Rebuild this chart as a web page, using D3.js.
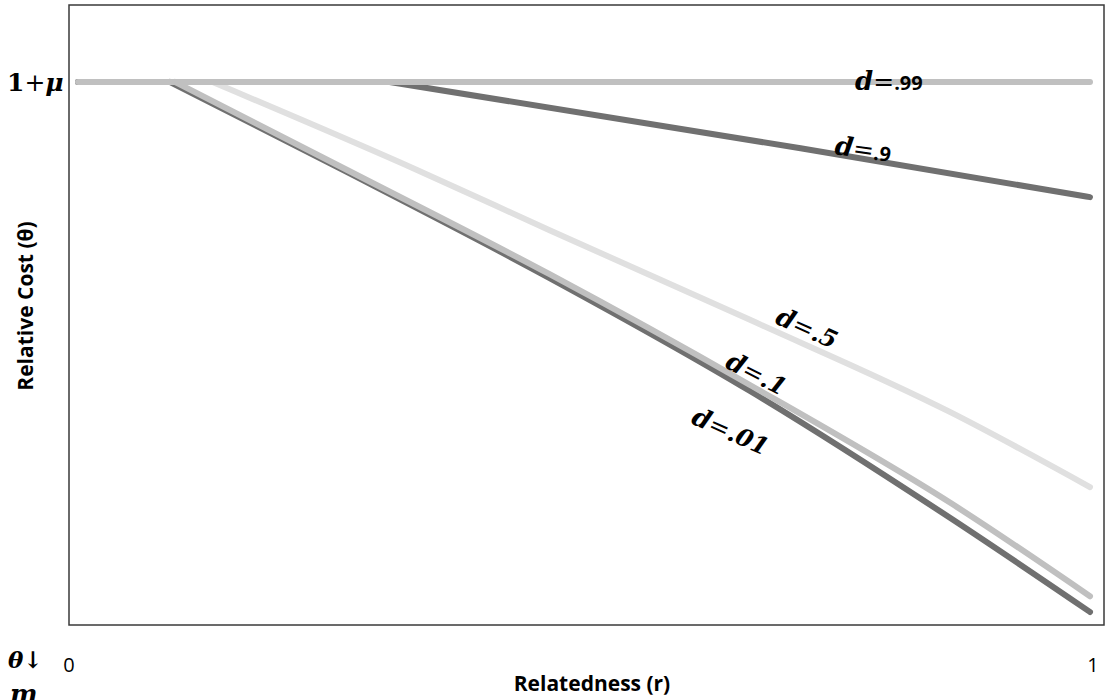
<!DOCTYPE html>
<html>
<head>
<meta charset="utf-8">
<script src="https://cdn.jsdelivr.net/npm/d3@7"></script>
<style>
  body { margin: 0; background: #fff; }
  svg { display: block; }
</style>
</head>
<body>
<script>
// relatedness r on x, relative cost on y (1 = the 1+mu level)
const rD99 = [0, 1];
const vD99 = [1, 1];
const rD9 = [0, 0.308, 0.714, 1];
const vD9 = [1, 1, 0.878, 0.788];
const rD5 = [0, 0.133, 0.335, 0.466, 0.664, 0.862, 1];
const vD5 = [1, 1, 0.838, 0.727, 0.562, 0.392, 0.254];
const rD1 = [0, 0.096, 0.266, 0.466, 0.664, 0.862, 1];
const vD1 = [1, 1, 0.838, 0.646, 0.442, 0.225, 0.053];
const rD01 = [0, 0.091, 0.266, 0.466, 0.664, 0.862, 1];
const vD01 = [1, 1, 0.834, 0.639, 0.431, 0.197, 0.024];
const xTicks = ['0', '1'];

const width = 1110, height = 700;
const box = { left: 69, right: 1104, top: 5, bottom: 625 };

let svg = d3.select('body').append('svg')
  .attr('width', width)
  .attr('height', height);

let x = d3.scaleLinear().domain([0, 1]).range([78, 1090]);
let y = d3.scaleLinear().domain([0, 1]).range([625, 82]);

// plot frame
svg.append('rect')
  .attr('x', box.left).attr('y', box.top)
  .attr('width', box.right - box.left)
  .attr('height', box.bottom - box.top)
  .attr('fill', 'none')
  .attr('stroke', '#3a3a3a')
  .attr('stroke-width', 1.5);

let series = [
  { r: rD01, v: vD01, color: '#707070' },
  { r: rD1, v: vD1, color: '#c0c0c0' },
  { r: rD5, v: vD5, color: '#e0e0e0' },
  { r: rD9, v: vD9, color: '#707070' },
  { r: rD99, v: vD99, color: '#c0c0c0' }
];

// flat stretch is straight, the falling part is smoothed
let flat = d3.line().x(d => x(d[0])).y(d => y(d[1]));
let smooth = d3.line().x(d => x(d[0])).y(d => y(d[1])).curve(d3.curveMonotoneX);

let pathFor = s => {
  let pts = s.r.map((r, i) => [r, s.v[i]]);
  if (pts.length <= 2) return flat(pts);
  return flat(pts.slice(0, 2)) + smooth(pts.slice(1));
};

svg.selectAll('path.curve')
  .data(series)
  .enter()
  .append('path')
  .attr('class', 'curve')
  .attr('d', pathFor)
  .attr('fill', 'none')
  .attr('stroke', s => s.color)
  .attr('stroke-width', 6)
  .attr('stroke-linecap', 'round')
  .attr('stroke-linejoin', 'round');

// curve labels: italic serif "d=" then the value
const serif = '"DejaVu Serif", "Liberation Serif", serif';
const sans = '"Open Sans", "Noto Sans", sans-serif';
let labels = [
  { text: '.99', px: 855, py: 90, rot: 0, sansVal: true },
  { text: '.9', px: 834, py: 154, rot: 8, sansVal: true },
  { text: '.5', px: 774, py: 323, rot: 24, sansVal: false },
  { text: '.1', px: 724, py: 367, rot: 27, sansVal: false },
  { text: '.01', px: 690, py: 423, rot: 24, sansVal: false }
];

let lab = svg.selectAll('text.dlab')
  .data(labels)
  .enter()
  .append('text')
  .attr('class', 'dlab')
  .attr('transform', d => `translate(${d.px},${d.py}) rotate(${d.rot})`)
  .attr('fill', '#000');
lab.append('tspan')
  .attr('font-family', serif)
  .attr('font-style', 'italic')
  .attr('font-weight', 'bold')
  .attr('font-size', 26)
  .text('d');
lab.append('tspan')
  .attr('font-family', serif)
  .attr('font-size', 25)
  .text('=');
lab.append('tspan')
  .attr('font-family', d => d.sansVal ? sans : serif)
  .attr('font-style', d => d.sansVal ? 'normal' : 'italic')
  .attr('font-weight', 'bold')
  .attr('font-size', d => d.sansVal ? 20 : 24)
  .text(d => d.text);

// y level label 1+mu
let mu = svg.append('text')
  .attr('x', 7).attr('y', 91)
  .attr('font-family', serif)
  .attr('font-size', 25)
  .attr('fill', '#000');
mu.append('tspan').attr('font-weight', 'bold').text('1');
mu.append('tspan').text('+');
mu.append('tspan').attr('font-weight', 'bold').attr('font-style', 'italic').text('μ');

// theta_m marker at the bottom left
svg.append('text')
  .attr('x', 8).attr('y', 668)
  .attr('font-family', serif)
  .attr('font-weight', 'bold')
  .attr('font-style', 'italic')
  .attr('font-size', 23)
  .text('θ↓');
svg.append('text')
  .attr('x', 10).attr('y', 703)
  .attr('font-family', serif)
  .attr('font-weight', 'bold')
  .attr('font-style', 'italic')
  .attr('font-size', 26)
  .text('m');

// x tick labels
svg.selectAll('text.xtick')
  .data(xTicks)
  .enter()
  .append('text')
  .attr('class', 'xtick')
  .attr('x', (d, i) => x(+d) + (i === 0 ? -9 : 3))
  .attr('y', 672)
  .attr('text-anchor', 'middle')
  .attr('font-family', sans)
  .attr('font-size', 20)
  .attr('fill', '#000')
  .text(d => d);

// axis titles
svg.append('text')
  .attr('x', 592).attr('y', 691)
  .attr('text-anchor', 'middle')
  .attr('font-family', sans)
  .attr('font-weight', 'bold')
  .attr('font-size', 21)
  .text('Relatedness (r)');

svg.append('text')
  .attr('transform', 'translate(33,306) rotate(-90)')
  .attr('text-anchor', 'middle')
  .attr('font-family', sans)
  .attr('font-weight', 'bold')
  .attr('font-size', 21)
  .text('Relative Cost (θ)');
</script>
</body>
</html>
